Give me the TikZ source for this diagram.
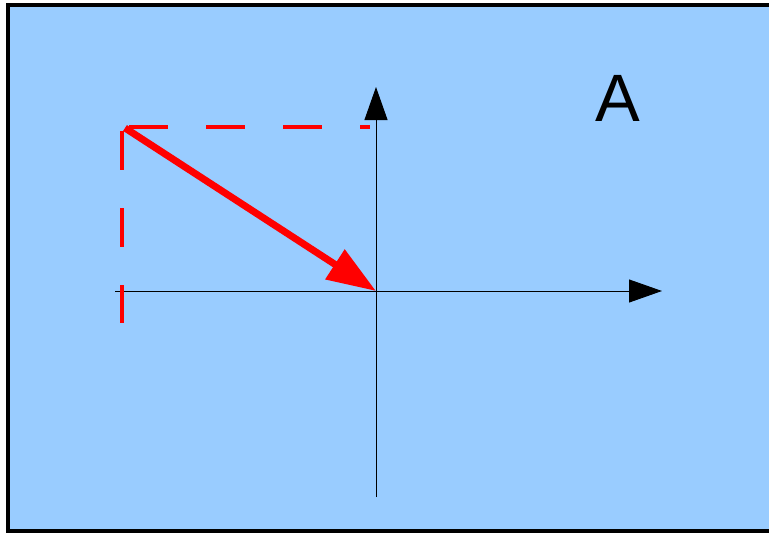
\documentclass[tikz,border=0pt]{standalone}
\usepackage{fontspec}
\setmainfont{Liberation Sans}
\usepackage{tikz}
\usetikzlibrary{arrows.meta}
\definecolor{skyfill}{HTML}{99CCFF}

\begin{document}
\begin{tikzpicture}[
    x=1pt, y=-1pt,
    axis/.style={line width=1pt, -{Triangle[length=33pt, width=23pt]}},
    vec/.style={red, line width=7pt, -{Triangle[length=49pt, width=34pt]}},
    proj/.style={red, line width=4pt, dash pattern=on 39pt off 38pt},
]

% ── Frame ──
\useasboundingbox (0,0) rectangle (769,533);
\clip (0,0) rectangle (769,533);
\draw[fill=skyfill, line width=3.5pt] (8,5) rectangle (790,531);

% ── Points ──
\coordinate (origin) at (376,291);
\coordinate (xstart) at (115,291);
\coordinate (xend) at (662,291);
\coordinate (ystart) at (376,497);
\coordinate (yend) at (376,87);
\coordinate (tail) at (125,128);
\coordinate (htop) at (129,127);
\coordinate (hend) at (370,127);
\coordinate (vtop) at (122,131);
\coordinate (vend) at (122,323);

% ── Label ──
\node[font=\fontsize{67}{67}\selectfont, inner sep=0pt] (lbl) at (618,98) {A};

% ── Axes ──
\draw[axis] (xstart) -- (xend);
\draw[axis] (ystart) -- (yend);

% ── Projections ──
\draw[proj] (htop) -- (hend);
\draw[proj] (vtop) -- (vend);

% ── Vector ──
\draw[vec] (tail) -- (origin);

\end{tikzpicture}
\end{document}
